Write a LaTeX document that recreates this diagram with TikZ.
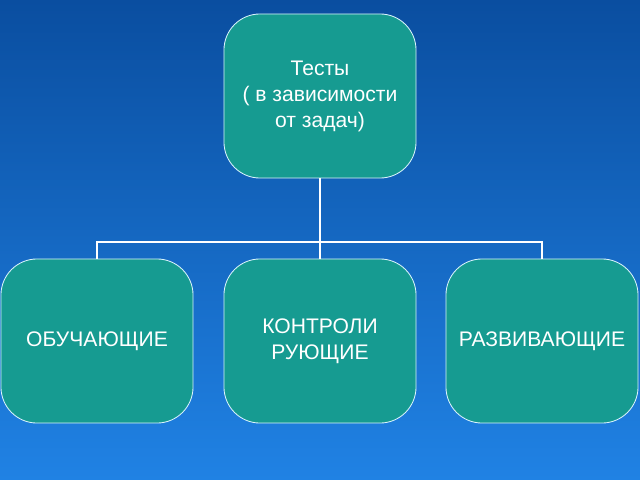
\documentclass[tikz,border=0pt]{standalone}
\usepackage{fontspec}
\setmainfont{Liberation Sans}
\usepackage{tikz}
\usepackage{xcolor}
\usetikzlibrary{positioning,calc}

\definecolor{bgtop}{RGB}{10,78,160}
\definecolor{bgbottom}{RGB}{32,130,228}
\definecolor{tealbox}{RGB}{22,155,145}

\begin{document}
\begin{tikzpicture}[
    x=0.025cm, y=-0.025cm,
    box/.style={rectangle, rounded corners=0.9cm, draw=white!85!cyan, line width=0.6pt, fill=tealbox,
        text=white, minimum width=4.8cm, minimum height=4.1cm, align=center,
        font=\fontsize{15}{18.5}\selectfont},
    link/.style={draw=white, line width=1pt}
]

% Background
\shade[top color=bgtop, bottom color=bgbottom] (0,0) rectangle (640,480);
\useasboundingbox (0,0) rectangle (640,480);

% Boxes
\node[box] (tests) at (320,96) {Тесты\\( в зависимости\\от задач)};
\node[box] (teach) at (97,341) {ОБУЧАЮЩИЕ};
\node[box] (control) at (320,341) {КОНТРОЛИ\\РУЮЩИЕ};
\node[box] (develop) at (542,341) {РАЗВИВАЮЩИЕ};

% Connectors
\coordinate (bus) at (320,242);
\draw[link] (tests) -- (bus);
\draw[link] (bus) -- (control);
\draw[link] (bus) -| (teach);
\draw[link] (bus) -| (develop);

\end{tikzpicture}
\end{document}
